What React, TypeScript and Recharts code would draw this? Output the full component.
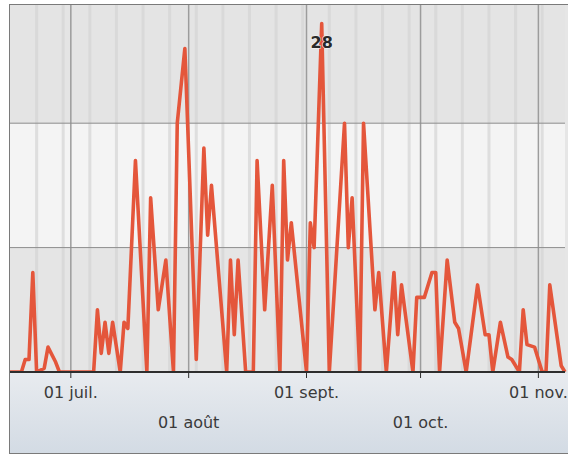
import React from 'react';
import { LineChart, Line, XAxis, YAxis, ReferenceArea, ReferenceLine } from 'recharts';

// day offset from 15 June, daily count
const dayIndex = [
  0, 3, 4, 5, 6, 7, 9, 10, 12, 13,
  22, 23, 24, 25, 26, 27, 29, 30, 31, 33,
  36, 37, 39, 41, 43, 44, 46, 49, 51, 52,
  53, 57, 58, 59, 60, 62, 64, 65, 67, 69,
  71, 72, 73, 74, 78, 79, 80, 82, 84, 88,
  89, 90, 92, 93, 95, 96, 97, 99, 101, 102,
  103, 106, 107, 109, 111, 112, 113, 115, 117, 118,
  120, 123, 125, 126, 127, 129, 131, 132, 134, 135,
  136, 138, 140, 141, 142, 145, 146,
];
const visits = [
  0, 0, 1, 1, 8, 0, 0.3, 2, 0.8, 0,
  0, 5, 1.5, 4, 1.5, 4, 0, 4, 3.5, 17,
  0, 14, 5, 9, 0, 20, 26, 1, 18, 11,
  15, 0, 9, 3, 9, 0, 0, 17, 5, 15,
  0, 17, 9, 12, 0, 12, 10, 28, 0, 20,
  10, 14, 0, 20, 10, 5, 8, 0, 8, 3,
  7, 0, 6, 6, 8, 8, 0, 9, 4, 3.5,
  0, 7, 3, 3, 0, 4, 1.2, 1, 0, 5,
  2.2, 2, 0, 0, 7, 0.5, 0,
];
const monthTicks = [16, 47, 78, 108, 139];
const monthLabels = ['01 juil.', '01 août', '01 sept.', '01 oct.', '01 nov.'];
const weekLines = [7, 14, 21, 28, 35, 42, 49, 56, 63, 70, 77, 84, 91, 98, 105, 112, 119, 126, 133, 140];

const data = dayIndex.map((d, i) => ({ day: d, value: visits[i] }));
const peak = Math.max(...visits);

const MonthTick = ({ x, y, payload }: any) => {
  const i = monthTicks.indexOf(payload.value);
  return (
    <text x={x} y={y + (i % 2 ? 48 : 18)} textAnchor="middle" fontSize={16} fill="#3a3a3a"
      fontFamily="DejaVu Sans">
      {monthLabels[i]}
    </text>
  );
};

const PeakLabel = (p: any) => {
  if (p.value !== peak) return null;
  return (
    <text x={p.x} y={p.y + 24} textAnchor="middle" fontSize={16} fill="#2a2a2a" fontWeight="bold"
      fontFamily="DejaVu Sans" stroke="#f6f6f6" strokeWidth={1} paintOrder="stroke">
      {p.value}
    </text>
  );
};

export default function App() {
  return (
    <div style={{ position: 'absolute', left: 0, top: 0, width: 568, height: 455, overflow: 'hidden', background: '#fff' }}>
      <div style={{
        position: 'absolute', left: 9, top: 4, width: 600, height: 450, boxSizing: 'border-box',
        border: '1px solid #7a7a7a', background: '#e6e6e6',
      }} />
      <div style={{
        position: 'absolute', left: 10, top: 373, width: 600, height: 80,
        background: 'linear-gradient(#e8ebef, #d3dbe4)',
      }} />
      <div style={{ position: 'absolute', left: 0, top: 0 }}>
        <LineChart width={600} height={455} data={data} margin={{ top: 5, right: 35, left: 10, bottom: 23 }}>
          <XAxis dataKey="day" type="number" domain={[0, 146]} ticks={monthTicks} height={60}
            axisLine={{ stroke: '#2e2e2e', strokeWidth: 2 }} tickLine={{ stroke: '#2e2e2e' }}
            tickSize={6} tick={<MonthTick />} interval={0} />
          <YAxis hide domain={[0, 29.5]} type="number" allowDataOverflow />
          <ReferenceArea y1={0} y2={10} fill="#e5e5e5" fillOpacity={1} stroke="none" />
          <ReferenceArea y1={10} y2={20} fill="#f4f4f4" fillOpacity={1} stroke="none" />
          <ReferenceArea y1={20} y2={29.5} fill="#e4e4e4" fillOpacity={1} stroke="none" />
          {weekLines.map(d => (
            <ReferenceLine key={d} x={d} stroke="#d4d4d4" strokeWidth={3} strokeOpacity={0.7} />
          ))}
          {monthTicks.map(d => (
            <ReferenceLine key={'m' + d} x={d} stroke="#9c9c9c" strokeWidth={1.5} />
          ))}
          <ReferenceLine y={10} stroke="#8e8e8e" strokeWidth={1} />
          <ReferenceLine y={20} stroke="#8e8e8e" strokeWidth={1} />
          <Line type="linear" dataKey="value" stroke="#e4563b" strokeWidth={3.6} dot={false}
            isAnimationActive={false} label={PeakLabel} strokeLinejoin="round" />
        </LineChart>
      </div>
    </div>
  );
}
